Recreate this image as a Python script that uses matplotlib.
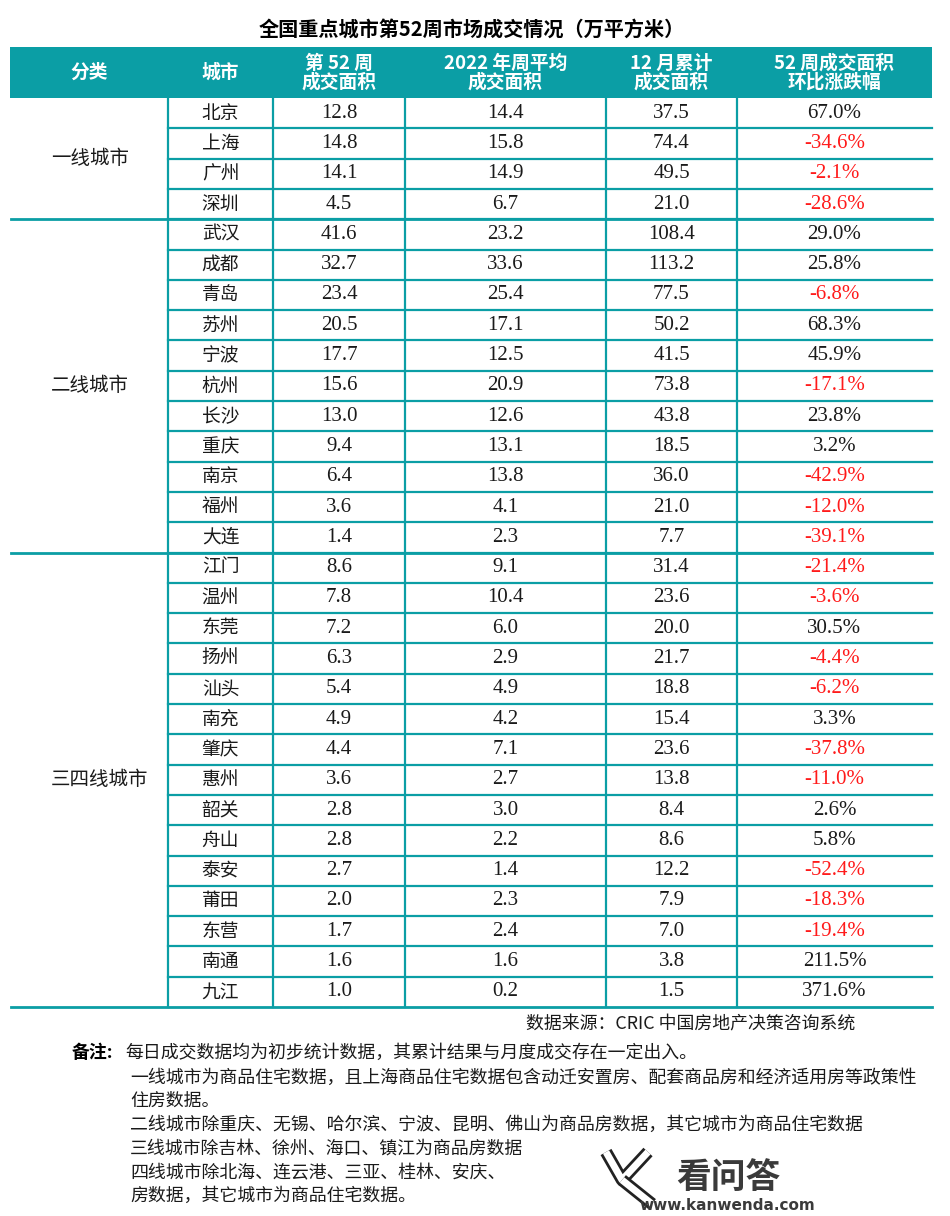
import matplotlib.pyplot as plt
from matplotlib.patches import Rectangle

# table data
groups = ['一线城市', '二线城市', '三四线城市']
group_sizes = [4, 11, 15]
cities = ['北京', '上海', '广州', '深圳',
          '武汉', '成都', '青岛', '苏州', '宁波', '杭州', '长沙', '重庆', '南京', '福州', '大连',
          '江门', '温州', '东莞', '扬州', '汕头', '南充', '肇庆', '惠州', '韶关', '舟山', '泰安',
          '莆田', '东营', '南通', '九江']
week52 = [12.8, 14.8, 14.1, 4.5,
          41.6, 32.7, 23.4, 20.5, 17.7, 15.6, 13.0, 9.4, 6.4, 3.6, 1.4,
          8.6, 7.8, 7.2, 6.3, 5.4, 4.9, 4.4, 3.6, 2.8, 2.8, 2.7, 2.0, 1.7, 1.6, 1.0]
avg2022 = [14.4, 15.8, 14.9, 6.7,
           23.2, 33.6, 25.4, 17.1, 12.5, 20.9, 12.6, 13.1, 13.8, 4.1, 2.3,
           9.1, 10.4, 6.0, 2.9, 4.9, 4.2, 7.1, 2.7, 3.0, 2.2, 1.4, 2.3, 2.4, 1.6, 0.2]
dec_total = [37.5, 74.4, 49.5, 21.0,
             108.4, 113.2, 77.5, 50.2, 41.5, 73.8, 43.8, 18.5, 36.0, 21.0, 7.7,
             31.4, 23.6, 20.0, 21.7, 18.8, 15.4, 23.6, 13.8, 8.4, 8.6, 12.2, 7.9, 7.0, 3.8, 1.5]
change = [67.0, -34.6, -2.1, -28.6,
          29.0, 25.8, -6.8, 68.3, 45.9, -17.1, 23.8, 3.2, -42.9, -12.0, -39.1,
          -21.4, -3.6, 30.5, -4.4, -6.2, 3.3, -37.8, -11.0, 2.6, 5.8, -52.4, -18.3, -19.4, 211.5, 371.6]
headers = ['分类', '城市', '第 52 周\n成交面积', '2022 年周平均\n成交面积', '12 月累计\n成交面积', '52 周成交面积\n环比涨跌幅']

title = '全国重点城市第52周市场成交情况（万平方米）'
source = '数据来源：CRIC 中国房地产决策咨询系统'
notes = ['每日成交数据均为初步统计数据，其累计结果与月度成交存在一定出入。',
         '一线城市为商品住宅数据，且上海商品住宅数据包含动迁安置房、配套商品房和经济适用房等政策性',
         '住房数据。',
         '二线城市除重庆、无锡、哈尔滨、宁波、昆明、佛山为商品房数据，其它城市为商品住宅数据',
         '三线城市除吉林、徐州、海口、镇江为商品房数据',
         '四线城市除北海、连云港、三亚、桂林、安庆、',
         '房数据，其它城市为商品住宅数据。']

teal = '#0B9EA5'
cjk = ['Noto Sans CJK SC', 'DejaVu Sans']
num_font = ['Liberation Serif', 'Noto Sans CJK SC']

fig = plt.figure(figsize=(9.5, 12.16), dpi=100)
ax = fig.add_axes([0, 0, 1, 1])
ax.set_xlim(0, 950)
ax.set_ylim(1216, 0)
ax.axis('off')

col_edges = [10, 168, 273, 405, 606, 737, 932]
top, head_h, row_h = 47, 51, 30.3
body_top = top + head_h
n = len(cities)
bottom = body_top + n * row_h
centers = [(col_edges[i] + col_edges[i + 1]) / 2 for i in range(6)]

ax.text(472, 29, title, ha='center', va='center', fontsize=14.5, fontweight='bold', family=cjk)

# header
ax.add_patch(Rectangle((col_edges[0], top), col_edges[-1] - col_edges[0], head_h, color=teal, lw=0))
for cx, h in zip(centers, headers):
    ax.text(cx, top + head_h / 2, h, ha='center', va='center', fontsize=13.5, fontweight='bold',
            color='white', family=cjk, linespacing=1.0)

# rows
txt = '#1a1a1a'
for i in range(n):
    y = body_top + (i + 0.5) * row_h
    ax.text(centers[1], y, cities[i], ha='center', va='center', fontsize=13.5, family=cjk, color=txt)
    ax.text(centers[2], y, f'{week52[i]:.1f}', ha='center', va='center', fontsize=15, family=num_font, color=txt)
    ax.text(centers[3], y, f'{avg2022[i]:.1f}', ha='center', va='center', fontsize=15, family=num_font, color=txt)
    ax.text(centers[4], y, f'{dec_total[i]:.1f}', ha='center', va='center', fontsize=15, family=num_font, color=txt)
    c = '#FF1A1A' if change[i] < 0 else txt
    ax.text(centers[5], y, f'{change[i]:.1f}%', ha='center', va='center', fontsize=15, family=num_font, color=c)
    if i > 0:
        yl = body_top + i * row_h
        ax.plot([col_edges[1], col_edges[-1]], [yl, yl], color=teal, lw=1.6)

# group labels and separators
start = 0
for g, s in zip(groups, group_sizes):
    yc = body_top + (start + s / 2) * row_h
    ax.text(51, yc, g, ha='left', va='center', fontsize=14, family=cjk, color=txt)
    start += s
    yl = body_top + start * row_h
    ax.plot([col_edges[0] + 1, col_edges[-1]], [yl, yl], color=teal, lw=2)

for x in col_edges[1:-1]:
    ax.plot([x, x], [body_top, bottom], color=teal, lw=1.6)

# footnotes
ax.text(855, 1024, source, ha='right', va='center', fontsize=12.9, family=cjk, color=txt)
ax.text(72, 1053, '备注:', ha='left', va='center', fontsize=12.9, fontweight='bold', family=cjk)
note_y = [1053, 1078, 1101, 1125, 1149, 1173, 1196]
for k, (t, yy) in enumerate(zip(notes, note_y)):
    ax.text(125 if k == 0 else 130, yy, t, ha='left', va='center', fontsize=12.9, family=cjk, color=txt)

# watermark box over the notes
ax.add_patch(Rectangle((523, 1137), 427, 79, color='white', lw=0, zorder=5))
ax.plot([606, 622, 648], [1152, 1180, 1152], color='#222222', lw=9, solid_capstyle='butt', zorder=6)
ax.plot([606, 622, 648], [1152, 1180, 1152], color='white', lw=5, solid_capstyle='butt', zorder=6)
ax.plot([622, 652], [1180, 1204], color='#222222', lw=9, solid_capstyle='butt', zorder=6)
ax.plot([622, 652], [1180, 1204], color='white', lw=5, solid_capstyle='butt', zorder=6)
ax.text(728, 1177, '看问答', ha='center', va='center', fontsize=25, fontweight='bold', family=cjk,
        color='#3a3a3a', zorder=6)
ax.text(727, 1205, 'www.kanwenda.com', ha='center', va='center', fontsize=11, fontweight='bold',
        family=['DejaVu Sans'], color='#3a3a3a', zorder=6)

fig.savefig('out.png', dpi=100, facecolor='white')
